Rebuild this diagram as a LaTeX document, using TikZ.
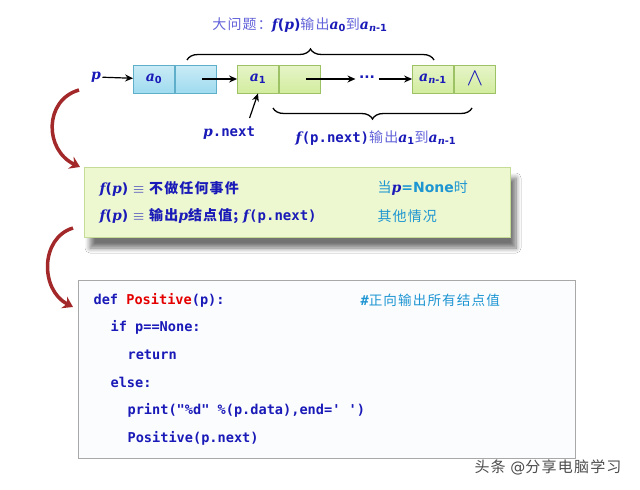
\documentclass[tikz,border=0pt]{standalone}
\usepackage{fontspec}
\setmainfont{DejaVu Sans}
\setmonofont{DejaVu Sans Mono}
\newfontfamily\cjk[LetterSpace=8]{Noto Sans CJK SC}
\newfontfamily\itf{DejaVu Serif}
\usetikzlibrary{arrows.meta,decorations.pathreplacing,shadows.blur}
\definecolor{txtblue}{HTML}{1A1AB8}
\definecolor{lightblue}{HTML}{6262DA}
\definecolor{cmtblue}{HTML}{1E96D2}
\definecolor{arcred}{HTML}{A3282A}
\definecolor{cyanfill}{HTML}{9FDBEF}
\definecolor{cyanline}{HTML}{5FAFCB}
\definecolor{greenfill}{HTML}{D2EC9E}
\definecolor{greenline}{HTML}{9DC266}
\definecolor{boxfill}{HTML}{EEF8D0}
\definecolor{boxline}{HTML}{C5DC97}
\definecolor{codeframe}{HTML}{A8A8A8}
\definecolor{codefill}{HTML}{FBFCFE}
\newcommand{\cn}[1]{{\cjk #1}}
\newcommand{\lcn}[1]{{\cjk\mdseries\color{lightblue}#1}}
\newcommand{\vi}[1]{{\itf\bfseries\itshape #1}}
\tikzstyle{cell}=[draw, minimum width=41pt, minimum height=28pt, inner sep=0pt,
    text=txtblue, font=\fontsize{14}{16}\selectfont\bfseries]
\tikzstyle{headcell}=[cell, draw=cyanline, top color=cyanfill!55, bottom color=cyanfill]
\tikzstyle{listcell}=[cell, draw=greenline, top color=greenfill!55, bottom color=greenfill]
\tikzstyle{lbl}=[text=txtblue, font=\fontsize{14}{16}\selectfont\bfseries, inner sep=1pt]
\tikzstyle{codetext}=[anchor=west, text=txtblue, font=\fontsize{13.6}{15}\selectfont\ttfamily\bfseries, inner sep=0pt]
\tikzstyle{ruletext}=[anchor=west, text=txtblue, font=\fontsize{14}{16}\selectfont\bfseries, inner sep=0pt]
\tikzstyle{turn}=[arcred, line width=3.5pt, -{Stealth[length=10pt,width=13pt]}]
\tikzstyle{brc}=[decorate, decoration={brace, amplitude=11pt}, line width=1.3pt]

\begin{document}
\begin{tikzpicture}[x=1pt, y=-1pt, >={Stealth[length=8pt,width=7pt]}, line width=1.2pt]
  \useasboundingbox[fill=white] (0,0) rectangle (640,490);
  % linked list
  \node (p) [lbl] at (96,77) {\vi{p}};
  \node (a0d) [headcell, line width=0.8pt] at (154,79) {\vi{a}\textsubscript{0}};
  \node (a0n) [headcell, line width=0.8pt, anchor=west] at (a0d.east) {};
  \node (a1d) [listcell, line width=0.8pt] at (258,79) {\vi{a}\textsubscript{1}};
  \node (a1n) [listcell, line width=0.8pt, anchor=west] at (a1d.east) {};
  \node (dots) [lbl, inner sep=3pt] at (367,79) {\raisebox{4pt}{...}};
  \node (and) [listcell, line width=0.8pt] at (433,79) {\vi{a}\textsubscript{\vi{n}-1}};
  \node (ann) [listcell, line width=0.8pt, anchor=west] at (and.east) {\fontsize{24}{26}\selectfont$\wedge$};
  \draw[->] (p) -- (a0d);
  \draw[->] ([xshift=6pt]a0n.center) -- (a1d.west);
  \draw[->] ([xshift=6pt]a1n.center) -- (dots.west);
  \draw[->] (dots.east) -- (and.west);
  \node (pnext) [lbl, font=\fontsize{14}{16}\selectfont\ttfamily\bfseries] at (229,133) {\vi{p}.next};
  \draw[->] ([xshift=-7pt,yshift=7pt]pnext.north east) -- (a1d.south);

  % braces
  \draw[brc] (187,60) -- (434,60);
  \draw[brc] (472,108) -- (273,108);
  \node (bigq) [lbl] at (300,25) {\lcn{大问题：}\vi{f}(\vi{p})\lcn{输出}\vi{a}\textsubscript{0}\lcn{到}\vi{a}\textsubscript{\vi{n}-1}};
  \node (subq) [lbl] at (376,138) {\vi{f}{\ttfamily(p.next)}\lcn{输出}\vi{a}\textsubscript{1}\lcn{到}\vi{a}\textsubscript{\vi{n}-1}};

  % recursive definition
  \node (rules) [draw=boxline, line width=0.8pt, fill=boxfill, minimum width=426pt, minimum height=70pt,
      blur shadow={shadow xshift=6pt, shadow yshift=-11pt, shadow blur steps=8, shadow blur radius=5pt, shadow opacity=55}]
      at (297,202) {};
  \node (r1) [ruletext] at (99,189) {\vi{f}(\vi{p}) $\equiv$ \cn{不做任何事件}};
  \node (r2) [ruletext] at (99,216) {\vi{f}(\vi{p}) $\equiv$ \cn{输出}\vi{p}\cn{结点值;} \vi{f}{\ttfamily(p.next)}};
  \node (c1) [ruletext, text=cmtblue] at (377,188) {{\cjk\mdseries 当}{\color{txtblue}\vi{p}}=None{\cjk\mdseries 时}};
  \node (c2) [ruletext, text=cmtblue, font=\fontsize{14}{16}\selectfont] at (377,216) {\cn{其他情况}};

  % python code
  \node (code) [draw=codeframe, line width=0.8pt, fill=codefill, minimum width=497pt, minimum height=178pt] at (326.5,369) {};
  \node (l1) [codetext] at (93,300) {def {\color{red!90!black}Positive}(p):};
  \node (cm) [codetext, text=cmtblue] at (360,300) {\#{\cjk\mdseries 正向输出所有结点值}};
  \node (l2) [codetext] at (110,327) {if p==None:};
  \node (l3) [codetext] at (127,355) {return};
  \node (l4) [codetext] at (110,382) {else:};
  \node (l5) [codetext] at (127,410) {print("\%d" \%(p.data),end=' ')};
  \node (l6) [codetext] at (127,438) {Positive(p.next)};

  % turning arrows
  \coordinate (sA) at (79,90);
  \coordinate (eA) at (80,167);
  \coordinate (sB) at (73,228);
  \coordinate (eB) at (73,307);
  \draw[turn] (sA) .. controls (44,100) and (44,150) .. (eA);
  \draw[turn] (sB) .. controls (40,238) and (40,290) .. (eB);

  \node (wm) [text=black!70, font=\fontsize{15}{17}\selectfont] at (548,467) {\cn{头条} @\cn{分享电脑学习}};
\end{tikzpicture}
\end{document}
